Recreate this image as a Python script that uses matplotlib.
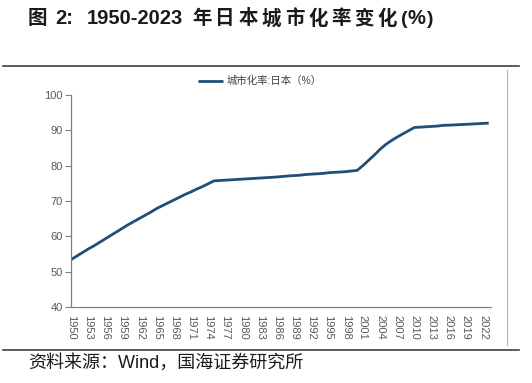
import matplotlib.pyplot as plt
from matplotlib.lines import Line2D

plt.rcParams["font.family"] = ["Liberation Sans", "Noto Sans CJK SC", "DejaVu Sans"]

# Japan urbanization rate (%)
years = list(range(1950, 2024))
urban_rate = [
    53.4, 54.4, 55.4, 56.4, 57.3, 58.3, 59.3, 60.3, 61.3, 62.3,
    63.3, 64.2, 65.1, 66.0, 66.9, 67.9, 68.7, 69.5, 70.3, 71.1,
    71.9, 72.6, 73.4, 74.1, 74.9, 75.7, 75.8, 75.9, 76.0, 76.1,
    76.2, 76.3, 76.4, 76.5, 76.6, 76.7, 76.8, 76.95, 77.1, 77.2,
    77.3, 77.5, 77.6, 77.7, 77.8, 78.0, 78.1, 78.2, 78.3, 78.5,
    78.65, 80.0, 81.5, 83.0, 84.6, 86.0, 87.1, 88.1, 89.0, 89.9,
    90.8, 90.9, 91.0, 91.1, 91.2, 91.4, 91.46, 91.54, 91.62, 91.7,
    91.78, 91.87, 91.95, 92.04,
]
x_ticks = list(range(1950, 2023, 3))
y_ticks = [40, 50, 60, 70, 80, 90, 100]
series_label = "城市化率:日本（%）"
source = "资料来源：Wind，国海证券研究所"
# title pieces: (text, fontsize, x start in px) -- the original is letter spaced
title_parts = [("图", 14, 28), ("2:", 14.5, 55), ("1950-2023", 14.5, 87)]
title_parts += [(ch, 14, 192 + i * 23.2) for i, ch in enumerate("年日本城市化率变化")]
title_parts += [("(", 14, 401), ("%", 14.5, 407), (")", 14, 427)]

W, H = 532, 383
fig = plt.figure(figsize=(W / 100, H / 100), dpi=100)
fig.patch.set_facecolor("white")

ax = fig.add_axes([71 / W, 1 - 307 / H, 420 / W, 212 / H])
ax.plot(years, urban_rate, color="#1f4e79", linewidth=2.0,
        solid_capstyle="butt", label=series_label)

ax.set_xlim(1950, 2023.4)
ax.set_ylim(40, 100)
ax.set_xticks(x_ticks)
ax.set_xticklabels([str(y) for y in x_ticks], rotation=-90, fontsize=8, color="#595959")
ax.set_yticks(y_ticks)
ax.set_yticklabels([str(y) for y in y_ticks], fontsize=8, color="#595959")
ax.tick_params(axis="x", length=0, pad=6)
ax.tick_params(axis="y", length=4, width=0.8, color="#808080", pad=2)

for side in ["top", "right"]:
    ax.spines[side].set_visible(False)
for side in ["left", "bottom"]:
    ax.spines[side].set_color("#808080")
    ax.spines[side].set_linewidth(0.9)

leg = ax.legend(loc="center", bbox_to_anchor=(0.449, 1.066), frameon=False,
                fontsize=7.5, handlelength=2.4, handletextpad=0.3,
                borderpad=0, borderaxespad=0)
for t in leg.get_texts():
    t.set_color("#404040")

# frame lines of the report figure
fig.add_artist(Line2D([3 / W, 519 / W], [1 - 66 / H, 1 - 66 / H], color="#404040", linewidth=1.2))
fig.add_artist(Line2D([3 / W, 519 / W], [1 - 350 / H, 1 - 350 / H], color="#404040", linewidth=1.2))
fig.add_artist(Line2D([507 / W, 507 / W], [1 - 70 / H, 1 - 345 / H], color="#b0b0b0", linewidth=0.8))

for txt, size, x in title_parts:
    fig.text(x / W, 1 - 19 / H, txt, fontsize=size, fontweight="bold",
             color="#1a1a1a", ha="left", va="center")

fig.text(28 / W, 1 - 363 / H, source, fontsize=13, color="#1a1a1a",
         ha="left", va="center")

fig.savefig("out.png", dpi=100)
